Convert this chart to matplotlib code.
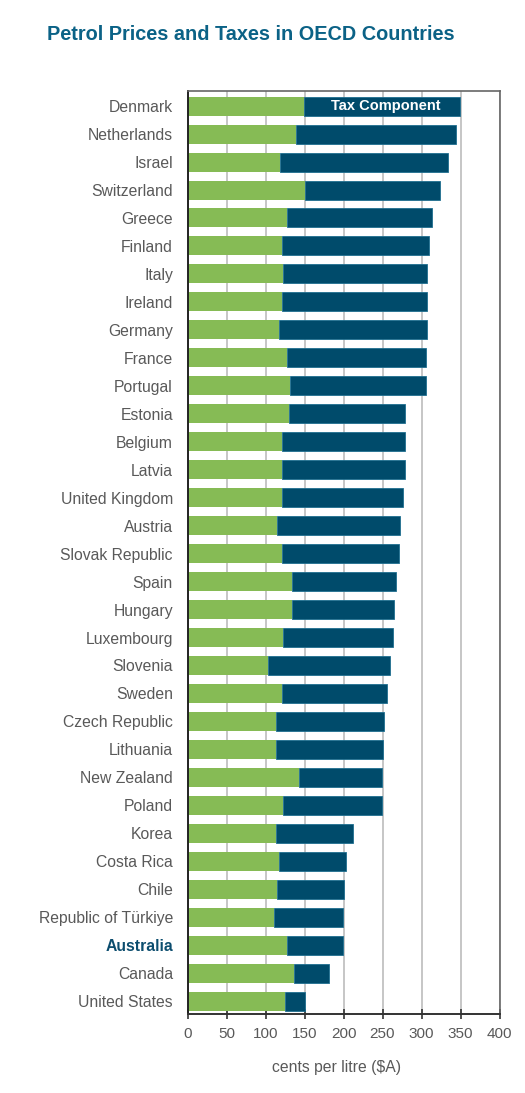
import numpy as np
import matplotlib.pyplot as plt

plt.rcParams['font.family'] = ['Liberation Sans', 'DejaVu Sans']

# Petrol prices (cents per litre, $A)
countries = ["Denmark", "Netherlands", "Israel", "Switzerland", "Greece", "Finland",
             "Italy", "Ireland", "Germany", "France", "Portugal", "Estonia", "Belgium",
             "Latvia", "United Kingdom", "Austria", "Slovak Republic", "Spain", "Hungary",
             "Luxembourg", "Slovenia", "Sweden", "Czech Republic", "Lithuania",
             "New Zealand", "Poland", "Korea", "Costa Rica", "Chile",
             "Republic of Türkiye", "Australia", "Canada", "United States"]
pre_tax = [149, 139, 119, 151, 127, 121, 123, 121, 117, 128, 132, 130, 121,
           121, 121, 115, 121, 134, 134, 122, 103, 121, 113, 113,
           143, 122, 113, 117, 115, 111, 128, 136, 125]
total = [349, 344, 334, 324, 313, 309, 307, 307, 307, 306, 306, 279, 279,
         279, 276, 273, 271, 267, 265, 263, 260, 256, 252, 250,
         249, 249, 212, 203, 201, 199, 199, 182, 151]
xticks = [0, 50, 100, 150, 200, 250, 300, 350, 400]

green = "#86bb55"
blue = "#004b6b"
teal = "#0b6286"
grey = "#595959"

pre_tax = np.array(pre_tax)
tax = np.array(total) - pre_tax
y = np.arange(len(countries))

fig = plt.figure(figsize=(5.25, 10.93), dpi=100)
ax = fig.add_axes([187.5 / 525, 1 - 1014 / 1093, 312 / 525, 923 / 1093])

ax.barh(y, pre_tax, height=0.68, color=green, zorder=2)
ax.barh(y, tax, left=pre_tax, height=0.68, color=blue,
        edgecolor="#1f6f90", linewidth=0.6, zorder=2)

# label inside the Denmark bar
ax.text(pre_tax[0] + tax[0] / 2 + 5, 0, "Tax Component", color="white",
        fontsize=10.5, fontweight="bold", ha="center", va="center", zorder=3)

ax.set_xlim(0, 400)
ax.set_ylim(len(countries) - 1 + 0.46, -0.54)
ax.set_xticks(xticks)
ax.set_xticklabels([str(t) for t in xticks], fontsize=11, color=grey)
ax.set_yticks(y)
ax.set_yticklabels(countries, fontsize=11.3, color=grey)
for lbl in ax.get_yticklabels():
    if lbl.get_text() == "Australia":
        lbl.set_fontweight("bold")
        lbl.set_color("#0c4d6e")

ax.tick_params(axis="y", length=0, pad=10.5)
ax.tick_params(axis="x", direction="inout", length=7, width=1.2, color="#333333", pad=6)
ax.grid(axis="x", color="#c2c2c2", linewidth=1.3, zorder=0)
ax.set_axisbelow(True)

for side in ["top", "right"]:
    ax.spines[side].set_color("#666666")
    ax.spines[side].set_linewidth(1.2)
ax.spines["left"].set_color("#222222")
ax.spines["left"].set_linewidth(1.4)
ax.spines["bottom"].set_color("#333333")
ax.spines["bottom"].set_linewidth(1.4)

ax.set_xlabel("cents per litre ($A)", fontsize=11.3, color=grey)
ax.xaxis.set_label_coords(0.476, -0.05)

fig.text(47 / 525, 1 - 34 / 1093, "Petrol Prices and Taxes in OECD Countries",
         fontsize=14.3, fontweight="bold", color=teal, ha="left", va="center")

fig.savefig("out.png", dpi=100)
